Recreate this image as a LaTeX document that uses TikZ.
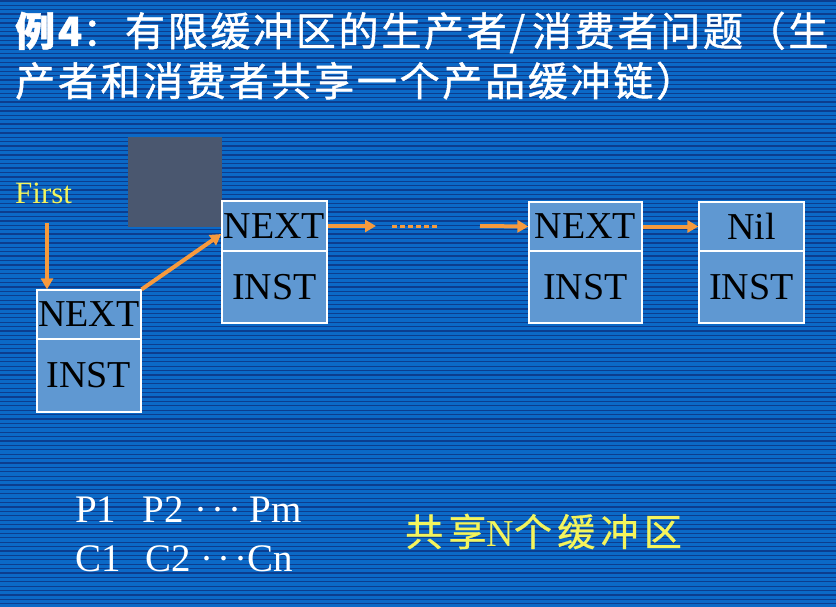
\documentclass[tikz,border=0pt]{standalone}
\usepackage{fontspec}
\setmainfont{Liberation Serif}
\newfontfamily\cjk[LetterSpace=6.8,FakeBold=1.2]{Noto Sans CJK SC}
\newfontfamily\cjky[LetterSpace=14,FakeBold=0.8]{Noto Sans CJK SC}
\usetikzlibrary{arrows.meta,calc}
\definecolor{bgblue}{HTML}{0B69C7}
\definecolor{stripe}{HTML}{0C3D8E}
\definecolor{cellfill}{HTML}{5F98D2}
\definecolor{graysq}{HTML}{4A576F}
\definecolor{arrorange}{HTML}{F79A3D}
\definecolor{txtyellow}{HTML}{F4F45C}
\begin{document}
\begin{tikzpicture}[x=1pt,y=-1pt,
  cell/.style={draw=white, line width=1.2pt, fill=cellfill, inner sep=0pt,
    font=\fontsize{38}{38}\selectfont, text=black},
  arr/.style={draw=arrorange, line width=4pt, -{Triangle[length=11pt,width=12pt]}},
  dotline/.style={draw=arrorange, line width=3pt, dash pattern=on 5pt off 3pt},
  title/.style={anchor=base west, inner sep=0pt, text=white, font=\cjk\fontsize{40}{40}\selectfont},
  plain/.style={anchor=base west, inner sep=0pt, text=white, font=\fontsize{39}{39}\selectfont}]
\useasboundingbox (0,0) rectangle (836,607);
\fill[bgblue] (0,0) rectangle (836,607);
\foreach \i in {0,...,138} \fill[stripe] (0,{\i*4.4+0.3}) rectangle (836,{\i*4.4+1.6});

% title
\node[title] (t1) at (15,46) {{\bfseries 例4}：有限缓冲区的生产者/\hspace{7pt}消费者问题（生};
\node[title] (t2) at (15,96) {产者和消费者共享一个产品缓冲链）};

% gray square
\node[fill=graysq, minimum width=94pt, minimum height=89pt, inner sep=0pt] (gsq) at (174.5,182) {};

% cells
\node[cell, minimum width=104pt, minimum height=49pt] (b1n) at (89,314.5) {NEXT};
\node[cell, minimum width=104pt, minimum height=73pt] (b1i) at (89,375.5) {INST};
\node[cell, minimum width=105pt, minimum height=50pt] (b2n) at (274.5,226) {NEXT};
\node[cell, minimum width=105pt, minimum height=72pt] (b2i) at (274.5,287) {INST};
\node[cell, minimum width=113pt, minimum height=49pt] (b3n) at (585.5,226.5) {NEXT};
\node[cell, minimum width=113pt, minimum height=72pt] (b3i) at (585.5,287) {INST};
\node[cell, minimum width=105pt, minimum height=49pt] (b4n) at (751.5,226.5) {Nil};
\node[cell, minimum width=105pt, minimum height=72pt] (b4i) at (751.5,287) {INST};

% First pointer
\node[anchor=base west, inner sep=0pt, text=txtyellow, font=\fontsize{31}{31}\selectfont] (first) at (15,204) {First};
\coordinate (fa) at (47,223);
\draw[arr] (fa) -- (fa |- b1n.north);

% links
\draw[arr] (b1n.north east) -- ($(b2n.west)+(0,8)$);
\coordinate (d0) at (376,226);
\coordinate (d1) at (392,226);
\coordinate (d2) at (439,226);
\coordinate (d3) at (480,226);
\draw[arr] (b2n.east) -- (d0);
\draw[dotline] (d1) -- (d2);
\draw[arr] (d3) -- (b3n.west);
\draw[arr] (b3n.east) -- (b4n.west);

% bottom texts
\node[plain] (prod) at (75,522) {P1\hspace{26pt}P2\hspace{11pt}·\hspace{4pt}·\hspace{4pt}·\hspace{8pt}Pm};
\node[plain] (cons) at (75,571) {C1\hspace{24.5pt}C2\hspace{10pt}·\hspace{4pt}·\hspace{4pt}·\hspace{0pt}Cn};
\node[anchor=base west, inner sep=0pt, text=txtyellow, font=\fontsize{38}{38}\selectfont] (shared) at (405,546) {{\cjky 共享}N{\cjky 个缓冲区}};
\end{tikzpicture}
\end{document}
